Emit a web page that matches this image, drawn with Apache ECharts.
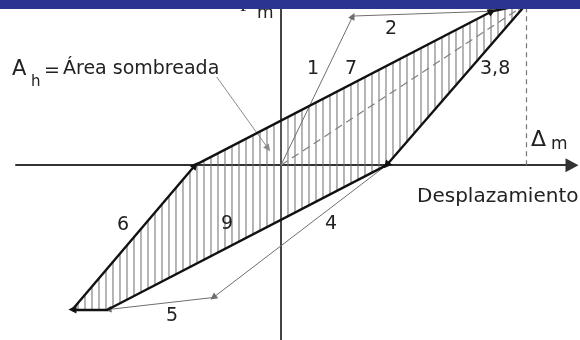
<!DOCTYPE html>
<html>
<head>
<meta charset="utf-8">
<script src="https://cdn.jsdelivr.net/npm/echarts@6/dist/echarts.min.js"></script>
<style>
  html, body { margin: 0; padding: 0; background: #fff; }
  #chart { width: 580px; height: 340px; }
</style>
</head>
<body>
<div id="chart"></div>
<script>
// Axis ranges: displacement Δ and force F, peak values Δm = Fm = 10
const deltaRange = [-10.8, 11.86];
const forceRange = [-10.9, 10.3];

// Vertices of the stabilised hysteresis loop (Δ, F)
const loopStartUp   = [-3.5, 0];     // branch 6 reaches the Δ axis
const loopUpperKnee = [8.6, 9.6];    // end of branch 7
const loopPeak      = [10, 10.05];   // (Δm, Fm)
const loopUnload    = [4.3, 0];      // branch 3,8 meets the Δ axis
const loopLowerKnee = [-7.05, -9.0]; // end of branch 9
const loopTrough    = [-8.5, -9.0];  // negative peak
const loopVertices  = [loopStartUp, loopUpperKnee, loopPeak, loopUnload, loopLowerKnee, loopTrough];

// First cycle (branches 1, 2, 4, 5)
const origin       = [0, 0];
const virginPeak   = [2.93, 9.3];
const reversalLow  = [-2.76, -8.25];

// Pointer from the legend text to the shaded area
const pointerFrom = [-2.62, 5.5];
const pointerTo   = [-0.53, 1.05];

// Δm marker
const deltaMax = 10;

const thinColor = '#6e6e6e';
const thickColor = '#111';

const chart = echarts.init(document.getElementById('chart'), null, { renderer: 'canvas' });

// Vertical hatching clipped to the loop polygon
function hatchRender(params, api) {
  const pts = loopVertices.map(p => api.coord(p));
  const xs = pts.map(p => p[0]);
  const minX = Math.min.apply(null, xs), maxX = Math.max.apply(null, xs);
  const step = 7;
  const phase = api.coord(origin)[0];
  const children = [];
  for (let x = phase + Math.ceil((minX - phase) / step) * step; x < maxX; x += step) {
    const ys = [];
    for (let i = 0; i < pts.length; i++) {
      const a = pts[i], b = pts[(i + 1) % pts.length];
      if ((a[0] <= x && b[0] > x) || (b[0] <= x && a[0] > x)) {
        const t = (x - a[0]) / (b[0] - a[0]);
        ys.push(a[1] + t * (b[1] - a[1]));
      }
    }
    ys.sort((m, n) => m - n);
    for (let k = 0; k + 1 < ys.length; k += 2) {
      children.push({
        type: 'line',
        shape: { x1: x, y1: ys[k], x2: x, y2: ys[k + 1] },
        style: { stroke: '#6c6c6c', lineWidth: 1 }
      });
    }
  }
  return { type: 'group', children };
}

const text = (t, x, y, size, extra) => Object.assign({
  type: 'text', z: 50,
  style: Object.assign({
    text: t, x, y,
    font: size + 'px "DejaVu Sans", sans-serif',
    fill: '#222', verticalAlign: 'middle', align: 'left'
  }, extra || {})
});

chart.setOption({
  animation: false,
  grid: { left: 16, right: 8, top: 0, bottom: 0 },
  xAxis: {
    type: 'value', min: deltaRange[0], max: deltaRange[1],
    axisLine: { show: true, onZero: true, symbol: ['none', 'triangle'], symbolSize: [14, 13],
      lineStyle: { color: '#333', width: 2 } },
    axisTick: { show: false }, axisLabel: { show: false }, splitLine: { show: false }
  },
  yAxis: {
    type: 'value', min: forceRange[0], max: forceRange[1],
    axisLine: { show: true, onZero: true, lineStyle: { color: '#444', width: 2 } },
    axisTick: { show: false }, axisLabel: { show: false }, splitLine: { show: false }
  },
  series: [
    {
      type: 'custom', z: 1, renderItem: hatchRender, data: [[0, 0]], silent: true
    },
    {
      type: 'lines', coordinateSystem: 'cartesian2d', z: 2, silent: true,
      symbol: ['none', 'none'],
      lineStyle: { color: '#808080', width: 1.2, type: [8, 5], opacity: 1 },
      data: [{ coords: [origin, loopPeak] }]
    },
    {
      type: 'lines', coordinateSystem: 'cartesian2d', z: 2, silent: true,
      symbol: ['none', 'none'],
      lineStyle: { color: '#777', width: 1.2, type: [5, 4], opacity: 1 },
      data: [{ coords: [[deltaMax, 0], [deltaMax, forceRange[1]]] }]
    },
    {
      type: 'lines', coordinateSystem: 'cartesian2d', z: 3, silent: true,
      symbol: ['none', 'triangle'], symbolSize: 7,
      lineStyle: { color: thinColor, width: 1, opacity: 1 },
      data: [
        { coords: [origin, virginPeak] },
        { coords: [virginPeak, loopUpperKnee] },
        { coords: [loopUnload, reversalLow] },
        { coords: [reversalLow, loopLowerKnee] },
        { coords: [pointerFrom, pointerTo], lineStyle: { color: '#8a8a8a' } }
      ]
    },
    {
      type: 'lines', coordinateSystem: 'cartesian2d', z: 4, silent: true,
      symbol: ['none', 'triangle'], symbolSize: 8,
      lineStyle: { color: thickColor, width: 2.4, opacity: 1 },
      data: [
        { coords: [loopLowerKnee, loopTrough] },
        { coords: [loopTrough, loopStartUp] },
        { coords: [loopStartUp, loopUpperKnee] },
        { coords: [loopPeak, loopUnload] }
      ]
    },
    {
      type: 'lines', coordinateSystem: 'cartesian2d', z: 4, silent: true,
      symbol: ['none', 'none'],
      lineStyle: { color: thickColor, width: 2.4, opacity: 1 },
      data: [
        { coords: [loopUpperKnee, loopPeak] },
        { coords: [loopUnload, loopLowerKnee] }
      ]
    }
  ],
  graphic: [
    { type: 'rect', z: 100, shape: { x: 0, y: 0, width: 580, height: 9 }, style: { fill: '#2c3491' } },
    text('F', 240, 6, 19, { font: '19px "Liberation Serif", serif' }),
    text('m', 257, 14, 17),
    text('A', 12, 70, 21),
    text('h', 31, 82, 15),
    text('=', 44, 71, 19),
    text('Área sombreada', 63, 69, 19),
    text('1', 307, 69, 19),
    text('7', 345, 69, 19),
    text('2', 385, 29, 19),
    text('3,8', 480, 69, 19),
    text('Δ', 531, 140, 22),
    text('m', 551, 145, 17),
    text('Desplazamiento', 417, 197, 20),
    text('6', 117, 225, 19),
    text('9', 221, 224, 19),
    text('4', 325, 224, 19),
    text('5', 166, 316, 19)
  ]
});
</script>
</body>
</html>
